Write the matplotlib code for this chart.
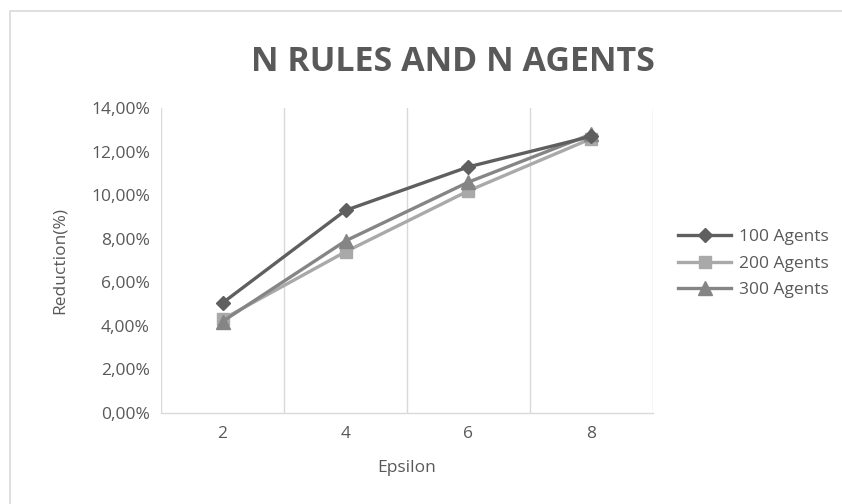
import matplotlib
matplotlib.use('Agg')
import matplotlib.pyplot as plt
from matplotlib.patches import Rectangle
from matplotlib.ticker import FuncFormatter, FixedLocator

# data
epsilon = ['2', '4', '6', '8']
agents_100 = [5.05, 9.3, 11.3, 12.7]
agents_200 = [4.3, 7.4, 10.2, 12.6]
agents_300 = [4.2, 7.9, 10.6, 12.8]
series_labels = ['100 Agents', '200 Agents', '300 Agents']

plt.rcParams['font.family'] = ['Open Sans', 'DejaVu Sans']
text_color = '#595959'
fs = 12.5

fig = plt.figure(figsize=(8.42, 5.04), dpi=100)
W, H = 842, 504

# outer chart border (runs off the right and bottom edge)
fig.patches.append(Rectangle((10 / W, -0.1), 1.0, 1 - 11 / H + 0.1,
                             transform=fig.transFigure, fill=False,
                             edgecolor='#d9d9d9', linewidth=1.2))

ax = fig.add_axes([161 / W, 1 - 413 / H, (653 - 161) / W, (413 - 108) / H])

x = range(len(epsilon))
ax.plot(x, agents_100, color='#5f5f5f', lw=2.4, marker='D', ms=7.5,
        label=series_labels[0], zorder=5)
ax.plot(x, agents_200, color='#a9a9a9', lw=2.4, marker='s', ms=9,
        label=series_labels[1], zorder=3)
ax.plot(x, agents_300, color='#858585', lw=2.4, marker='^', ms=10,
        label=series_labels[2], zorder=4)

ax.set_xlim(-0.5, len(epsilon) - 0.5)
ax.set_ylim(0, 14)
ax.set_xticks(list(x))
ax.set_xticklabels(epsilon)
ax.xaxis.set_minor_locator(FixedLocator([i - 0.5 for i in range(len(epsilon) + 1)]))
ax.grid(True, which='minor', axis='x', color='#d9d9d9', lw=1)
ax.set_yticks(range(0, 15, 2))
ax.yaxis.set_major_formatter(FuncFormatter(lambda v, p: ('%.2f%%' % v).replace('.', ',')))
ax.tick_params(axis='both', which='both', length=0, colors=text_color, labelsize=fs)
ax.tick_params(axis='x', pad=9)
ax.tick_params(axis='y', pad=8)

for side in ['top', 'right', 'left']:
    ax.spines[side].set_visible(False)
ax.spines['bottom'].set_color('#d9d9d9')
ax.spines['bottom'].set_linewidth(1)

ax.set_xlabel('Epsilon', color=text_color, fontsize=fs, labelpad=13)
ax.set_ylabel('Reduction(%)', color=text_color, fontsize=fs, labelpad=17)

fig.text(453 / W, 1 - 62 / H, 'N RULES AND N AGENTS', ha='center', va='center',
         fontsize=24.5, fontweight='bold', color=text_color)

leg = ax.legend(loc='center left', bbox_to_anchor=(1.02, 0.49), frameon=False,
                fontsize=fs, handlelength=3.0, labelspacing=0.6, handletextpad=0.5)
for t in leg.get_texts():
    t.set_color(text_color)

fig.savefig('out.png', dpi=100)
